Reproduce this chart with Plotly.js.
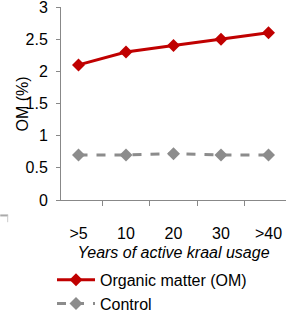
<!DOCTYPE html>
<html><head><meta charset="utf-8">
<script src="https://cdn.plot.ly/plotly-3.0.1.min.js"></script>
<style>html,body{margin:0;padding:0;background:#fff;}#chart{width:290px;height:312px;}</style>
</head><body><div id="chart"></div>
<script>
const categories = ['>5', '10', '20', '30', '>40'];
const omValues = [2.1, 2.3, 2.4, 2.5, 2.6];
const controlValues = [0.7, 0.7, 0.72, 0.7, 0.7];
const yTicks = [0, 0.5, 1, 1.5, 2, 2.5, 3];

const fam = 'Liberation Sans, Arial, sans-serif';
const traces = [
  {x: categories, y: omValues, name: 'Organic matter (OM)', type: 'scatter', mode: 'lines+markers',
   line: {color: '#c00000', width: 3}, marker: {symbol: 'diamond', size: 10, color: '#c00000'}},
  {x: categories, y: controlValues, name: 'Control', type: 'scatter', mode: 'lines+markers',
   line: {color: '#8c8c8c', width: 3, dash: 'dash'}, marker: {symbol: 'diamond', size: 10, color: '#8c8c8c'}}
];
const layout = {
  width: 290, height: 312,
  margin: {l: 61, r: 4, t: 7, b: 112, autoexpand: false},
  paper_bgcolor: '#fff', plot_bgcolor: '#fff',
  font: {family: fam, size: 16, color: '#000'},
  showlegend: true,
  legend: {orientation: 'v', x: -0.04, xanchor: 'left', y: -0.325, yanchor: 'top',
           font: {family: fam, size: 16, color: '#000'}, tracegroupgap: 0, itemwidth: 38, bgcolor: 'rgba(0,0,0,0)'},
  xaxis: {type: 'category', tickson: 'boundaries', ticks: 'outside', ticklen: 5, tickcolor: '#888',
          showline: true, linecolor: '#888', linewidth: 1, showgrid: false, zeroline: false,
          ticklabelstandoff: 19,
          tickfont: {family: fam, size: 16, color: '#000'},
          title: {text: 'Years of active kraal usage', font: {family: fam, size: 16, color: '#000', style: 'italic'}, standoff: 5}},
  yaxis: {range: [0, 3], tickvals: yTicks, ticktext: yTicks.map(String), ticks: 'outside', ticklen: 4, tickcolor: '#888',
          showline: true, linecolor: '#888', linewidth: 1, showgrid: false, zeroline: false,
          ticklabeloverflow: 'allow', ticklabelstandoff: 5,
          tickfont: {family: fam, size: 16, color: '#000'}},
  annotations: [
    {text: 'OM (%)', xref: 'paper', yref: 'paper', x: -0.169, y: 0.5, xanchor: 'center', yanchor: 'middle',
     textangle: -90, showarrow: false, font: {family: fam, size: 16, color: '#000'}}
  ],
  shapes: [
    {type: 'line', xref: 'paper', yref: 'paper', x0: -0.27, x1: -0.235, y0: -0.08, y1: -0.08, line: {color: '#aaa', width: 2}},
    {type: 'line', xref: 'paper', yref: 'paper', x0: -0.237, x1: -0.237, y0: -0.08, y1: -0.115, line: {color: '#ccc', width: 1}}
  ]
};
Plotly.newPlot('chart', traces, layout, {displayModeBar: false, staticPlot: true});
</script></body></html>
